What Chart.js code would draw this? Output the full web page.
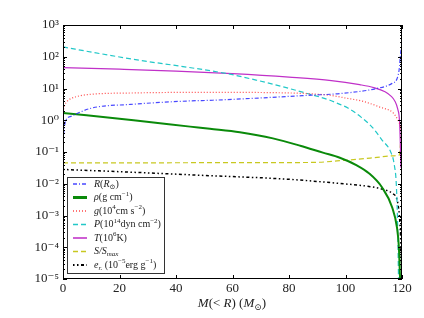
<!DOCTYPE html>
<html><head><meta charset="utf-8">
<script src="https://cdn.jsdelivr.net/npm/chart.js@4"></script>
<style>html,body{margin:0;padding:0;background:#fff}#wrap{width:424px;height:318px;position:relative}</style>
</head><body><div id="wrap"><canvas id="c" width="424" height="318"></canvas></div>
<script>
// ---- data (mass coordinate M(<R) in solar masses, and quantity values) ----
const R_m   = [0.2,0.5,1,3,10,24,45,53,88,98,111,116.5,118.2,119,119.5,120];
const R_val = [0.355,0.631,1.0,1.35,2.4,3.16,4.07,4.27,6.17,6.92,10,14.5,20,39.8,126,251];

const rho_m   = [0,25,45,52,62.6,74.3,84,92,98,104,108.3,112.9,116.5,118.2,118.9,119.3,119.6];
const rho_val = [1.7,1.0,0.63,0.537,0.417,0.269,0.158,0.0955,0.066,0.038,0.0214,0.00776,0.00182,0.000427,0.0001,0.0000115,0.0000032];

const g_m   = [0,0.5,1.5,3,6,10,25,50,80,90,95,100,106,112,117,118.6,119.5,120];
const g_val = [1.78,2.82,3.98,4.9,5.89,6.6,7.24,7.59,7.24,6.6,6.03,5.01,3.98,2.63,1.66,1.0,0.63,0.4];

const P_m   = [0,13,27,44,58,68.6,78,87.4,94.5,98,101,105.6,109.5,113,116,117.3,118,118.5,118.8];
const P_val = [204,126,77.6,46.8,29.5,18.2,11.2,6.6,4.27,3.16,2.4,1.23,0.60,0.234,0.1,0.038,0.0089,0.00032,0.0000063];

const T_m   = [0,20,40,60,80,95,105,110,114,116,117.5,118.5,119.1,119.4,119.6];
const T_val = [45.7,40.7,35.5,29.5,22.9,17.8,13.2,10.7,7.94,5.89,3.98,2.24,1.0,0.2,0.032];

const S_m   = [0,30,60,88,100,110,117,119,119.6,120];
const S_val = [0.0457,0.0457,0.0462,0.0468,0.055,0.066,0.0759,0.0794,0.251,1.0];

const e_m   = [0,20,48,80,98,108,113,116.5,118.5,119.3,119.7,120];
const e_val = [0.0282,0.024,0.0186,0.0138,0.0102,0.0083,0.00676,0.005,0.00251,0.0005,0.000063,0.0000032];

const xTicks = [0,20,40,60,80,100,120];
const yDecades = [-5,-4,-3,-2,-1,0,1,2,3];
const supMap = {'-':'\u207B','0':'\u2070','1':'\u00B9','2':'\u00B2','3':'\u00B3','4':'\u2074','5':'\u2075'};

function pts(xs, ys){ return xs.map((x,i)=>({x:x, y:ys[i]})); }

const series = [
  {data:pts(R_m,R_val), color:'rgba(40,40,255,0.85)', width:1.2, dash:[4,2,1,2],
   label:[{t:'R',i:1},{t:'('},{t:'R',i:1},{t:'\u2299',sub:1},{t:')'}]},
  {data:pts(rho_m,rho_val), color:'#0a8a0a', width:2, dash:[],
   label:[{t:'\u03C1',i:1},{t:'(g cm'},{t:'\u22121',sup:1},{t:')'}]},
  {data:pts(g_m,g_val), color:'rgba(255,40,40,0.85)', width:1.2, dash:[1,2],
   label:[{t:'g',i:1},{t:'(10'},{t:'4',sup:1},{t:'cm s'},{t:'\u22122',sup:1},{t:')'}]},
  {data:pts(P_m,P_val), color:'#22c8c8', width:1.2, dash:[5,3],
   label:[{t:'P',i:1},{t:'(10'},{t:'14',sup:1},{t:'dyn cm'},{t:'\u22122',sup:1},{t:')'}]},
  {data:pts(T_m,T_val), color:'#c030c8', width:1.2, dash:[],
   label:[{t:'T',i:1},{t:'(10'},{t:'6',sup:1},{t:'K)'}]},
  {data:pts(S_m,S_val), color:'#c8c820', width:1.2, dash:[5,3],
   label:[{t:'S/S',i:1},{t:'max',i:1,sub:1}]},
  {data:pts(e_m,e_val), color:'#000000', width:1.5, dash:[1.5,2.5,1.5,2.5,3,2.5],
   label:[{t:'e',i:1},{t:'r.',i:1,sub:1},{t:' (10'},{t:'\u22125',sup:1},{t:'erg g'},{t:'\u22121',sup:1},{t:')'}]}
];

const FONT = "'Liberation Serif','DejaVu Serif',serif";

function drawSegs(ctx, x, y, segs, size){
  let cx = x;
  ctx.textBaseline = 'middle';
  ctx.textAlign = 'left';
  for (const s of segs){
    let fs = (s.sup||s.sub) ? size*0.7 : size;
    let dy = s.sup ? -size*0.35 : (s.sub ? size*0.3 : 0);
    ctx.font = (s.i?'italic ':'') + fs + 'px ' + FONT;
    ctx.fillText(s.t, cx, y+dy);
    cx += ctx.measureText(s.t).width;
  }
  return cx - x;
}

const framePlugin = {
  id:'frame',
  afterDraw(chart){
    const ctx = chart.ctx, a = chart.chartArea;
    const xs = chart.scales.x, ys = chart.scales.y;
    ctx.save();
    ctx.strokeStyle = '#000'; ctx.lineWidth = 1; ctx.setLineDash([]);
    ctx.strokeRect(a.left+0.5, a.top+0.5, a.right-a.left-1, a.bottom-a.top-1);
    ctx.beginPath();
    for (const v of xTicks){
      const px = Math.round(xs.getPixelForValue(v))+0.5;
      ctx.moveTo(px, a.bottom); ctx.lineTo(px, a.bottom-4);
      ctx.moveTo(px, a.top); ctx.lineTo(px, a.top+4);
    }
    for (const d of yDecades){
      for (let k=1;k<=9;k++){
        if (d===3 && k>1) break;
        const v = k*Math.pow(10,d);
        const py = Math.round(ys.getPixelForValue(v))+0.5;
        const L = k===1 ? 4 : 2;
        ctx.moveTo(a.left, py); ctx.lineTo(a.left+L, py);
        ctx.moveTo(a.right, py); ctx.lineTo(a.right-L, py);
      }
    }
    ctx.stroke();
    // legend
    const bx=67, by=177, bw=97, bh=96;
    ctx.fillStyle='#fff'; ctx.fillRect(bx,by,bw,bh);
    ctx.strokeStyle='#333'; ctx.lineWidth=1;
    ctx.strokeRect(bx+0.5,by+0.5,bw,bh);
    series.forEach((s,i)=>{
      const y = 184 + i*13.5;
      ctx.strokeStyle = s.color; ctx.lineWidth = s.width*1.3 > 2 ? 3 : s.width*1.3;
      ctx.setLineDash(s.dash);
      ctx.beginPath(); ctx.moveTo(73, y); ctx.lineTo(87, y); ctx.stroke();
      ctx.setLineDash([]);
      ctx.fillStyle = '#222';
      drawSegs(ctx, 94, y, s.label, 10);
    });
    // x axis title
    ctx.fillStyle='#222';
    const title=[{t:'M',i:1},{t:'(< '},{t:'R',i:1},{t:') ('},{t:'M',i:1},{t:'\u2299',sub:1},{t:')'}];
    ctx.globalAlpha = 0;
    const w = drawSegs(ctx, 0, -50, title, 13);
    ctx.globalAlpha = 1;
    drawSegs(ctx, 232 - w/2, 304, title, 13);
    ctx.restore();
  }
};

new Chart(document.getElementById('c'), {
  type:'line',
  data:{ datasets: series.map(s=>({
    data:s.data, borderColor:s.color, borderWidth:s.width, borderDash:s.dash,
    pointRadius:0, fill:false, cubicInterpolationMode:'monotone'
  }))},
  options:{
    responsive:false, animation:false, devicePixelRatio:1,
    layout:{padding:{left:0,right:22,top:25,bottom:0}},
    plugins:{legend:{display:false}, tooltip:{enabled:false}},
    scales:{
      x:{type:'linear', min:0, max:120,
         grid:{display:false, drawTicks:false, tickLength:0}, border:{display:false},
         afterFit(s){ s.height = 39; },
         afterBuildTicks(s){ s.ticks = xTicks.map(v=>({value:v})); },
         ticks:{color:'#222', font:{family:FONT, size:13}, padding:2, maxRotation:0}},
      y:{type:'logarithmic', min:1e-5, max:1e3,
         grid:{display:false, drawTicks:false, tickLength:0}, border:{display:false},
         afterFit(s){ s.width = 63; },
         afterBuildTicks(s){ s.ticks = yDecades.map(d=>({value:Math.pow(10,d)})); },
         ticks:{color:'#222', font:{family:FONT, size:13}, padding:4, autoSkip:false,
           callback(v){ const d=Math.round(Math.log10(v)); return '10'+String(d).split('').map(c=>supMap[c]).join(''); }}}
    }
  },
  plugins:[framePlugin]
});
</script></body></html>
